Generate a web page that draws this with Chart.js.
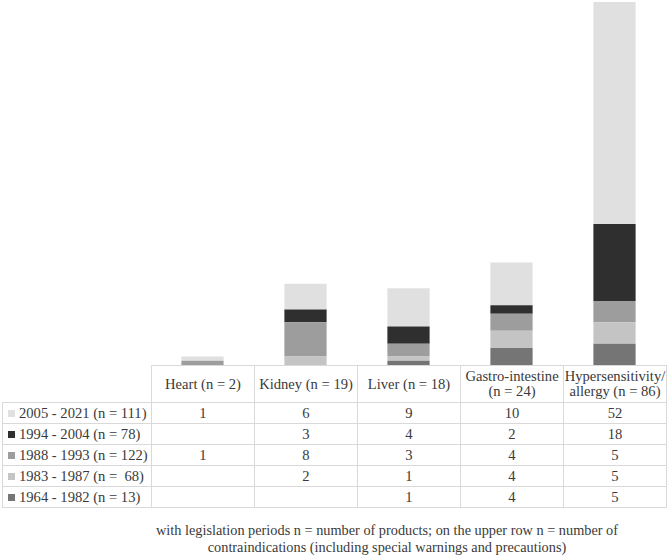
<!DOCTYPE html>
<html>
<head>
<meta charset="utf-8">
<script src="https://cdn.jsdelivr.net/npm/chart.js@4.4.1/dist/chart.umd.min.js"></script>
<style>
  html, body { margin: 0; padding: 0; background: #ffffff; }
  body { width: 669px; height: 558px; position: relative; overflow: hidden;
         font-family: "Liberation Serif", Tinos, "Times New Roman", Times, "DejaVu Serif", serif; color: #3a3a3a; }
  #chartBox { position: absolute; left: 0; top: 0; width: 669px; height: 365px; }
  table { position: absolute; left: 2px; top: 365px; border-collapse: collapse; table-layout: fixed;
          font-size: 14.6px; font-family: inherit; }
  td, th { border: 1px solid #d9d9d9; padding: 0; font-weight: normal; text-align: center; white-space: pre; font-family: inherit; }
  th { height: 36px; line-height: 15px; vertical-align: middle; }
  td { height: 20px; line-height: 20px; }
  td.lab { text-align: left; padding-left: 5px; }
  th.corner { border: none; }
  .sw { display: inline-block; width: 7px; height: 7px; margin-right: 4px; vertical-align: 1px; }
  #foot { position: absolute; left: 87px; width: 600px; top: 522px; font-size: 14.3px; line-height: 16.5px;
          text-align: center; white-space: pre; }
</style>
</head>
<body>
<div id="chartBox"><canvas id="c"></canvas></div>
<table id="tbl"></table>
<div id="foot"></div>
<script>
// ---- data ----
const categories = [["Heart (n = 2)"], ["Kidney (n = 19)"], ["Liver (n = 18)"], ["Gastro-intestine", "(n = 24)"], ["Hypersensitivity/", "allergy (n = 86)"]];
const periods = ["2005 - 2021 (n = 111)", "1994 - 2004 (n = 78)", "1988 - 1993 (n = 122)", "1983 - 1987 (n =  68)", "1964 - 1982 (n = 13)"];
const p2005_2021 = [1, 6, 9, 10, 52];
const p1994_2004 = [null, 3, 4, 2, 18];
const p1988_1993 = [1, 8, 3, 4, 5];
const p1983_1987 = [null, 2, 1, 4, 5];
const p1964_1982 = [null, null, 1, 4, 5];
const periodColors = ["#e0e0e0", "#2f2f2f", "#9d9d9d", "#c4c4c4", "#757575"];
const footLines = ["with legislation periods n = number of products; on the upper row n = number of",
                   "contraindications (including special warnings and precautions)"];

const seriesTopDown = [p2005_2021, p1994_2004, p1988_1993, p1983_1987, p1964_1982];

// ---- chart (stacked bars, bottom = oldest period) ----
const datasets = [];
for (let i = seriesTopDown.length - 1; i >= 0; i--) {
  datasets.push({
    label: periods[i],
    data: seriesTopDown[i],
    backgroundColor: periodColors[i],
    borderWidth: 0,
    categoryPercentage: 1.0,
    barPercentage: 0.41
  });
}
new Chart(document.getElementById('c'), {
  type: 'bar',
  data: { labels: categories.map(c => c.join(' ')), datasets },
  options: {
    responsive: true,
    maintainAspectRatio: false,
    animation: false,
    layout: { padding: { left: 151, right: 3, top: 2, bottom: 0 } },
    plugins: { legend: { display: false }, tooltip: { enabled: false } },
    scales: {
      x: { display: false, stacked: true },
      y: { display: false, stacked: true, min: 0, max: 85 }
    }
  }
});

// ---- data table ----
const tbl = document.getElementById('tbl');
const cg = document.createElement('colgroup');
[149, 103, 103, 103, 103, 103].forEach(w => { const c = document.createElement('col'); c.style.width = w + 'px'; cg.appendChild(c); });
tbl.appendChild(cg);
const hr = document.createElement('tr');
const corner = document.createElement('th'); corner.className = 'corner'; hr.appendChild(corner);
categories.forEach(c => { const th = document.createElement('th'); th.textContent = c.join('\n'); hr.appendChild(th); });
tbl.appendChild(hr);
periods.forEach((p, i) => {
  const tr = document.createElement('tr');
  const td = document.createElement('td'); td.className = 'lab';
  const sw = document.createElement('span'); sw.className = 'sw'; sw.style.background = periodColors[i];
  td.appendChild(sw); td.appendChild(document.createTextNode(p));
  tr.appendChild(td);
  seriesTopDown[i].forEach(v => { const c = document.createElement('td'); c.textContent = v == null ? '' : String(v); tr.appendChild(c); });
  tbl.appendChild(tr);
});
document.getElementById('foot').textContent = footLines.join('\n');
</script>
</body>
</html>
